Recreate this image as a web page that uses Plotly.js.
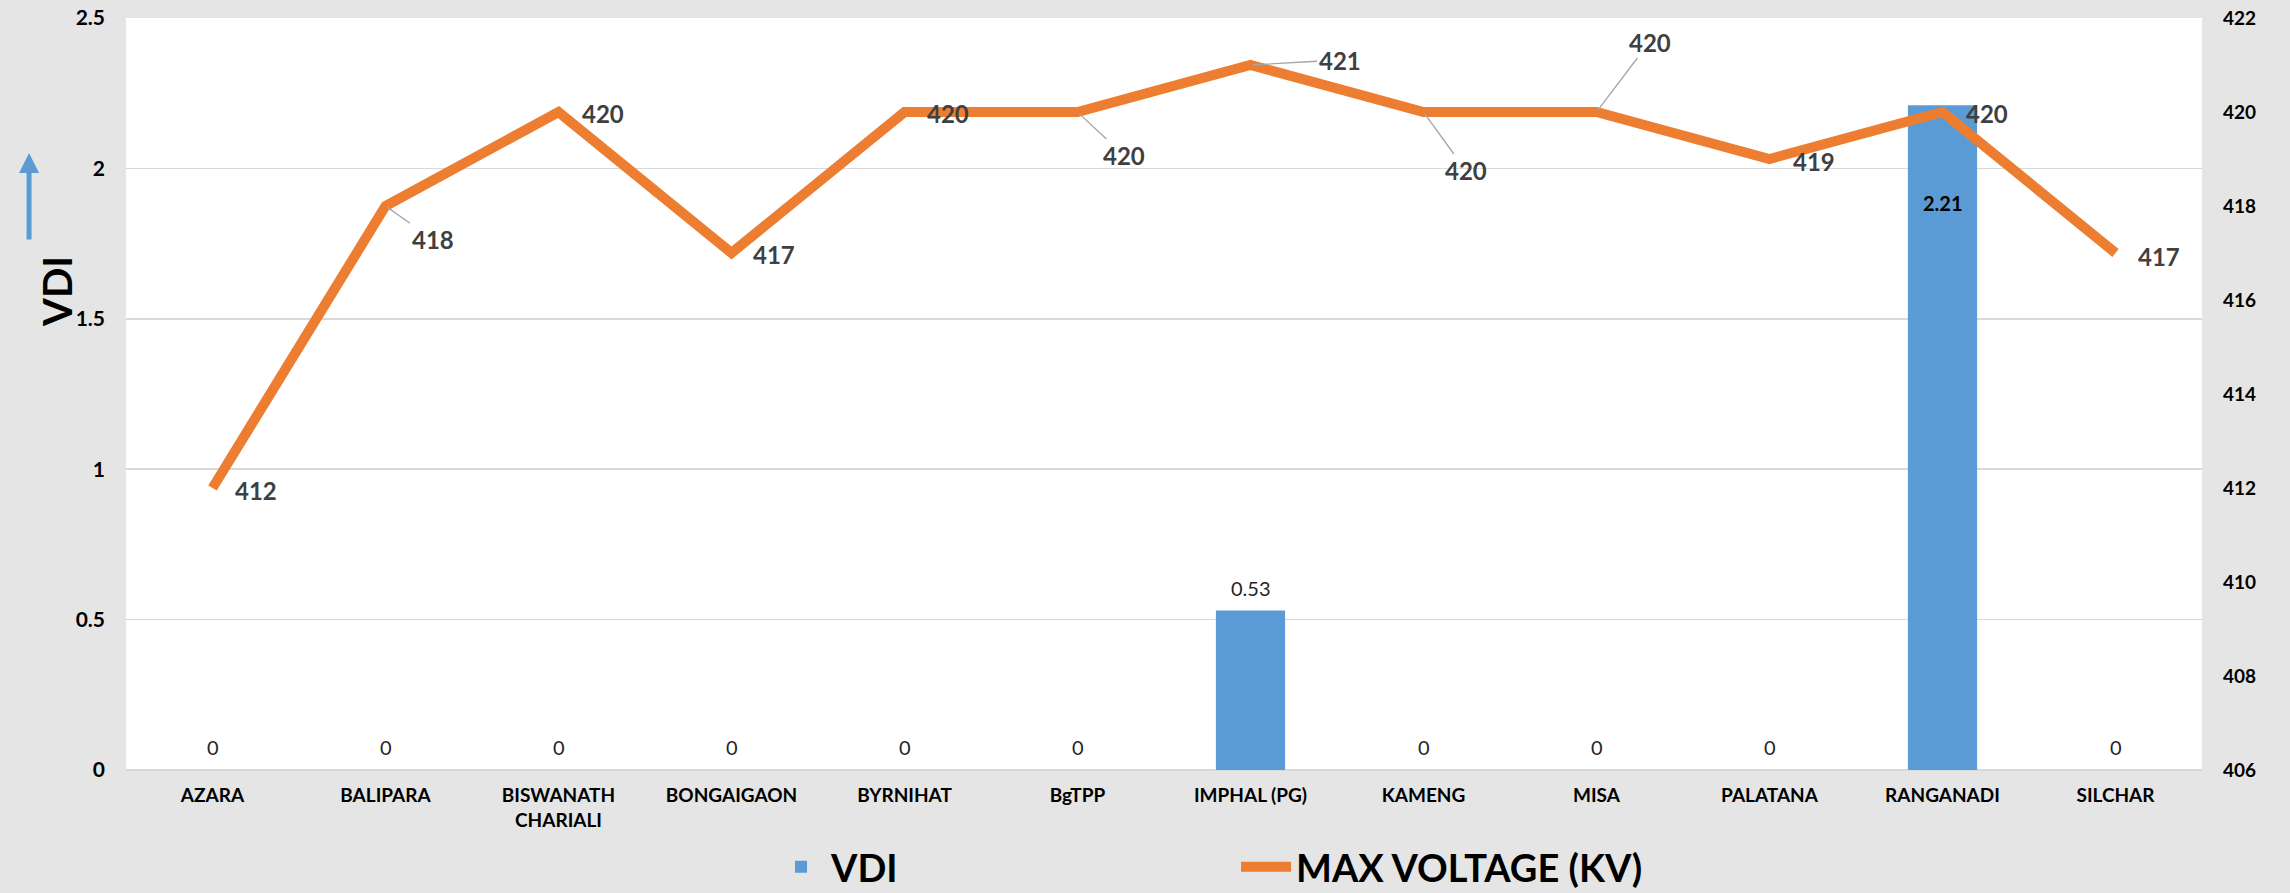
<!DOCTYPE html>
<html>
<head>
<meta charset="utf-8">
<script src="https://cdn.plot.ly/plotly-3.0.1.min.js"></script>
<style>
  html, body { margin: 0; padding: 0; background: #e5e5e5; }
  #chart { width: 2290px; height: 893px; }
</style>
</head>
<body>
<div id="chart"></div>
<script>
// ---- data ----
const categories = ['AZARA', 'BALIPARA', 'BISWANATH<br>CHARIALI', 'BONGAIGAON', 'BYRNIHAT', 'BgTPP',
                    'IMPHAL (PG)', 'KAMENG', 'MISA', 'PALATANA', 'RANGANADI', 'SILCHAR'];
const vdi = [0, 0, 0, 0, 0, 0, 0.53, 0, 0, 0, 2.21, 0];
const maxVoltage = [412, 418, 420, 417, 420, 420, 421, 420, 420, 419, 420, 417];
const vdiTicks = [0, 0.5, 1, 1.5, 2, 2.5];
const voltTicks = [406, 408, 410, 412, 414, 416, 418, 420, 422];

// ---- label placement (styling only, px offsets of each voltage label) ----
const labelDx = [43, 47, 44, 42, 43, 46, 89, 42, 53, 44, 44, 43];
const labelDy = [2, 33, 1, 1, 1, 43, -5, 58, -70, 2, 1, 3];
const hasLeader = [false, true, false, false, false, true, true, true, true, false, false, false];

const FONT = 'Lato, "Open Sans", sans-serif';
const BLUE = '#5b9bd5';
const ORANGE = '#ed7d31';

const barTrace = {
  type: 'bar',
  name: 'VDI',
  x: categories,
  y: vdi,
  yaxis: 'y',
  width: 0.4,
  marker: { color: BLUE },
  hoverinfo: 'x+y'
};

const lineTrace = {
  type: 'scatter',
  mode: 'lines',
  name: 'MAX VOLTAGE (KV)',
  x: categories,
  y: maxVoltage,
  yaxis: 'y2',
  line: { color: ORANGE, width: 10 },
  cliponaxis: false
};

const annotations = [];
// bar value labels
vdi.forEach((v, i) => {
  const inside = v > 2;
  annotations.push({
    x: categories[i], y: v, xref: 'x', yref: 'y',
    text: String(v), showarrow: false,
    yanchor: 'middle', yshift: inside ? -98 : 23,
    font: inside
      ? { family: FONT, size: 20, color: '#000000', weight: 'bold' }
      : { family: FONT, size: 20, color: '#262626' }
  });
});
// voltage labels
maxVoltage.forEach((v, i) => {
  annotations.push({
    x: categories[i], y: v, xref: 'x', yref: 'y2',
    text: String(v),
    showarrow: true,
    ax: labelDx[i], ay: labelDy[i],
    arrowhead: 0, arrowwidth: 1.3, standoff: 2,
    arrowcolor: hasLeader[i] ? '#a6a6a6' : 'rgba(0,0,0,0)',
    font: { family: FONT, size: 24, color: '#404040', weight: 'bold' }
  });
});
// y-axis title "VDI" with blue arrow
annotations.push({
  x: -0.0458, y: 0.637, xref: 'paper', yref: 'paper',
  text: 'VDI', textangle: -90, showarrow: false,
  font: { family: FONT, size: 40, color: '#000000', weight: 'bold' }
});
annotations.push({
  x: -0.0467, y: 0.8205, xref: 'paper', yref: 'paper',
  text: '', showarrow: true, ax: 0, ay: 88,
  arrowhead: 2, arrowsize: 0.8, arrowwidth: 5, arrowcolor: BLUE
});

const layout = {
  width: 2290, height: 893,
  paper_bgcolor: '#e5e5e5',
  plot_bgcolor: '#ffffff',
  margin: { l: 126, r: 88, t: 18, b: 123 },
  showlegend: true,
  legend: {
    orientation: 'h',
    x: 0.3107, xanchor: 'left',
    yref: 'container', y: 0.029, yanchor: 'middle',
    font: { family: FONT, size: 38, color: '#000000', weight: 'bold' },
    entrywidth: 400,
    bgcolor: 'rgba(0,0,0,0)',
    itemwidth: 50
  },
  xaxis: {
    type: 'category',
    tickfont: { family: FONT, size: 19, color: '#000000', weight: 'bold' },
    ticks: '',
    ticklabelstandoff: 12,
    showgrid: false,
    showline: false,
    zeroline: false
  },
  yaxis: {
    range: [0, 2.5],
    tickvals: vdiTicks,
    ticktext: vdiTicks.map(String),
    tickfont: { family: FONT, size: 21, color: '#000000', weight: 'bold' },
    showgrid: true, gridcolor: '#d9d9d9', gridwidth: 1.5,
    zeroline: true, zerolinecolor: '#d9d9d9', zerolinewidth: 1.5,
    ticks: '', ticklabelstandoff: 20,
    showline: false
  },
  yaxis2: {
    overlaying: 'y', side: 'right',
    range: [406, 422],
    tickvals: voltTicks,
    ticktext: voltTicks.map(String),
    tickfont: { family: FONT, size: 19, color: '#000000', weight: 'bold' },
    showgrid: false, zeroline: false,
    ticks: '', ticklabelstandoff: 20,
    showline: false
  },
  annotations: annotations
};

Plotly.newPlot('chart', [barTrace, lineTrace], layout, { displayModeBar: false, staticPlot: true });
</script>
</body>
</html>
